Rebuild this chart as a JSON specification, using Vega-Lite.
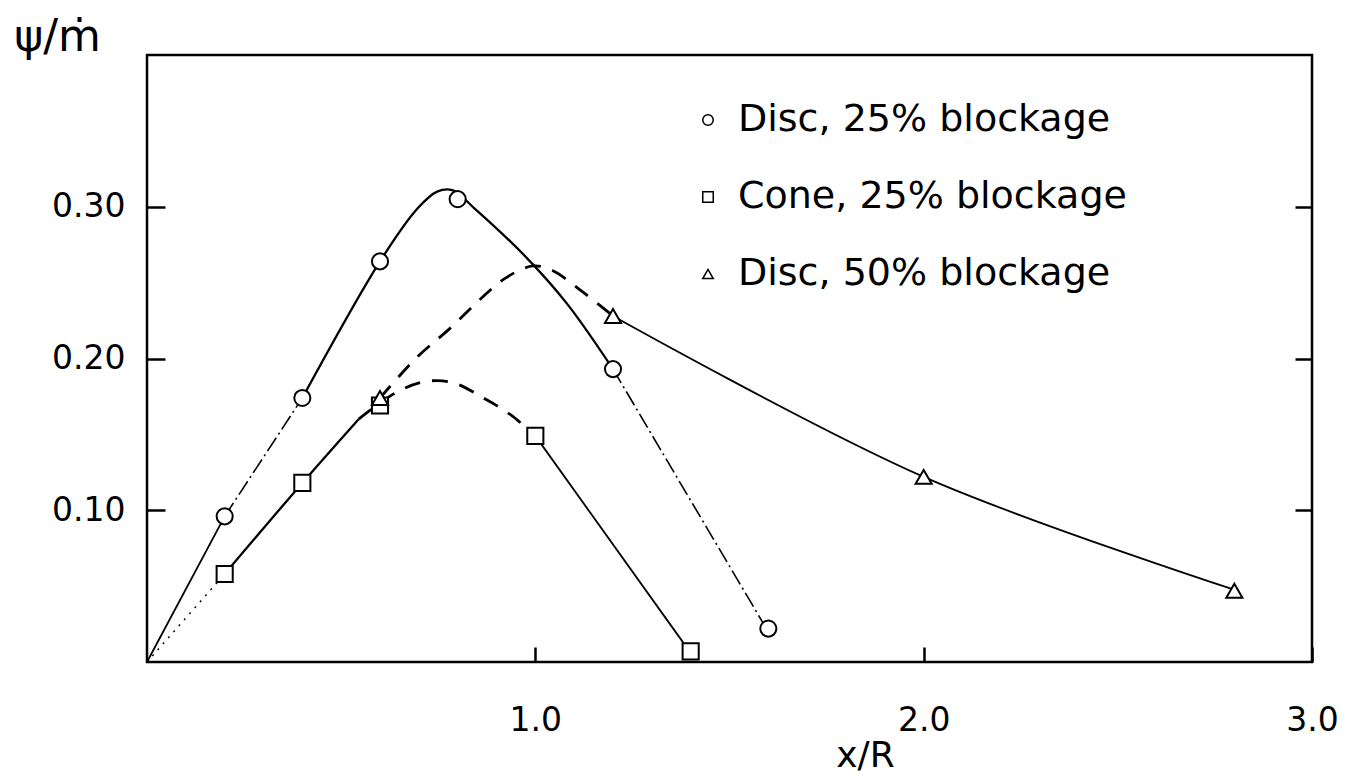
{
  "$schema": "https://vega.github.io/schema/vega-lite/v6.json",
  "width": 1165,
  "height": 607,
  "autosize": {"type": "none"},
  "padding": {"left": 147, "top": 55, "right": 47, "bottom": 116},
  "background": "white",
  "config": {
    "view": {"stroke": "black", "strokeWidth": 2.5},
    "font": "DejaVu Sans",
    "axis": {
      "grid": false,
      "domain": false,
      "tickColor": "black",
      "tickWidth": 2.5,
      "labelColor": "black",
      "titleColor": "black",
      "labelFont": "DejaVu Sans",
      "titleFont": "DejaVu Sans",
      "labelFontWeight": "normal",
      "titleFontWeight": "normal"
    }
  },
  "datasets": {
    "curves": [
      {"seg": "d25-start", "x": 0, "y": 0},
      {"seg": "d25-start", "x": 0.2, "y": 0.096},
      {"seg": "d25-rise", "x": 0.2, "y": 0.096},
      {"seg": "d25-rise", "x": 0.4, "y": 0.174},
      {"seg": "d25-top", "x": 0.4, "y": 0.174},
      {"seg": "d25-top", "x": 0.6, "y": 0.264},
      {"seg": "d25-top", "x": 0.697, "y": 0.299},
      {"seg": "d25-top", "x": 0.747, "y": 0.31},
      {"seg": "d25-top", "x": 0.786, "y": 0.311},
      {"seg": "d25-top", "x": 0.843, "y": 0.299},
      {"seg": "d25-top", "x": 0.979, "y": 0.266},
      {"seg": "d25-top", "x": 1.082, "y": 0.236},
      {"seg": "d25-top", "x": 1.2, "y": 0.193},
      {"seg": "d25-fall", "x": 1.2, "y": 0.193},
      {"seg": "d25-fall", "x": 1.595, "y": 0.022},
      {"seg": "c25-start", "x": 0, "y": 0},
      {"seg": "c25-start", "x": 0.2, "y": 0.058},
      {"seg": "c25-rise", "x": 0.2, "y": 0.058},
      {"seg": "c25-rise", "x": 0.4, "y": 0.118},
      {"seg": "c25-rise", "x": 0.545, "y": 0.16},
      {"seg": "c25-peak", "x": 0.545, "y": 0.16},
      {"seg": "c25-peak", "x": 0.644, "y": 0.178},
      {"seg": "c25-peak", "x": 0.722, "y": 0.185},
      {"seg": "c25-peak", "x": 0.789, "y": 0.184},
      {"seg": "c25-peak", "x": 0.866, "y": 0.174},
      {"seg": "c25-peak", "x": 0.936, "y": 0.163},
      {"seg": "c25-peak", "x": 1.0, "y": 0.149},
      {"seg": "c25-tail", "x": 1.0, "y": 0.149},
      {"seg": "c25-tail", "x": 1.397, "y": 0.007},
      {"seg": "d50-peak", "x": 0.6, "y": 0.174},
      {"seg": "d50-peak", "x": 0.696, "y": 0.201},
      {"seg": "d50-peak", "x": 0.781, "y": 0.22},
      {"seg": "d50-peak", "x": 0.858, "y": 0.239},
      {"seg": "d50-peak", "x": 0.923, "y": 0.253},
      {"seg": "d50-peak", "x": 0.994, "y": 0.261},
      {"seg": "d50-peak", "x": 1.044, "y": 0.258},
      {"seg": "d50-peak", "x": 1.116, "y": 0.245},
      {"seg": "d50-peak", "x": 1.2, "y": 0.228},
      {"seg": "d50-tail", "x": 1.2, "y": 0.228},
      {"seg": "d50-tail", "x": 2.0, "y": 0.122},
      {"seg": "d50-tail", "x": 2.807, "y": 0.047}
    ],
    "points": [
      {"series": "Disc, 25% blockage", "x": 0.2, "y": 0.096},
      {"series": "Disc, 25% blockage", "x": 0.4, "y": 0.174},
      {"series": "Disc, 25% blockage", "x": 0.6, "y": 0.264},
      {"series": "Disc, 25% blockage", "x": 0.8, "y": 0.305},
      {"series": "Disc, 25% blockage", "x": 1.2, "y": 0.193},
      {"series": "Disc, 25% blockage", "x": 1.6, "y": 0.022},
      {"series": "Cone, 25% blockage", "x": 0.2, "y": 0.058},
      {"series": "Cone, 25% blockage", "x": 0.4, "y": 0.118},
      {"series": "Cone, 25% blockage", "x": 0.6, "y": 0.169},
      {"series": "Cone, 25% blockage", "x": 1.0, "y": 0.149},
      {"series": "Cone, 25% blockage", "x": 1.4, "y": 0.007},
      {"series": "Disc, 50% blockage", "x": 0.6, "y": 0.174},
      {"series": "Disc, 50% blockage", "x": 1.2, "y": 0.228},
      {"series": "Disc, 50% blockage", "x": 2.0, "y": 0.122},
      {"series": "Disc, 50% blockage", "x": 2.8, "y": 0.047}
    ]
  },
  "encoding": {
    "x": {
      "field": "x",
      "type": "quantitative",
      "scale": {"domain": [0, 3], "nice": false, "zero": false},
      "axis": {
        "values": [1, 2, 3],
        "format": ".1f",
        "tickSize": -15,
        "labelPadding": 57,
        "labelFontSize": 33,
        "labelFlush": false,
        "labelOverlap": false,
        "title": "x/R",
        "titleFontSize": 36,
        "titleX": 718,
        "titleY": 93,
        "titleAlign": "center",
        "titleBaseline": "middle"
      }
    }
  },
  "layer": [
    {
      "description": "thick solid stretches of the curves, with the left axis",
      "data": {"name": "curves"},
      "transform": [{"filter": {"field": "seg", "oneOf": ["d25-top", "c25-rise"]}}],
      "mark": {"type": "line", "color": "black", "strokeWidth": 2.3, "interpolate": "catmull-rom"},
      "encoding": {
        "y": {
          "field": "y",
          "type": "quantitative",
          "scale": {"domain": [0, 0.4], "nice": false, "zero": false},
          "axis": {
            "orient": "left",
            "values": [0.1, 0.2, 0.3],
            "format": ".2f",
            "tickSize": -18,
            "labelPadding": 40,
            "labelFontSize": 33,
            "title": "ψ/ṁ",
            "titleAngle": 0,
            "titleFontSize": 44,
            "titleX": -90,
            "titleY": -18,
            "titleAlign": "center",
            "titleBaseline": "middle"
          }
        },
        "detail": {"field": "seg", "type": "nominal"}
      }
    },
    {
      "description": "thin solid stretches, with the inward ticks on the right",
      "data": {"name": "curves"},
      "transform": [{"filter": {"field": "seg", "oneOf": ["d25-start", "c25-tail", "d50-tail"]}}],
      "mark": {"type": "line", "color": "black", "strokeWidth": 1.8, "interpolate": "catmull-rom"},
      "encoding": {
        "y": {
          "field": "y",
          "type": "quantitative",
          "scale": {"domain": [0, 0.4], "nice": false, "zero": false},
          "axis": {
            "orient": "right",
            "values": [0.1, 0.2, 0.3],
            "tickSize": -17,
            "labels": false,
            "title": null
          }
        },
        "detail": {"field": "seg", "type": "nominal"}
      }
    },
    {
      "description": "dash-dot stretches of the 25% disc curve",
      "data": {"name": "curves"},
      "transform": [{"filter": {"field": "seg", "oneOf": ["d25-rise", "d25-fall"]}}],
      "mark": {"type": "line", "color": "black", "strokeWidth": 1.6, "strokeDash": [16, 4, 2, 4]},
      "encoding": {
        "y": {"field": "y", "type": "quantitative", "scale": {"domain": [0, 0.4], "nice": false, "zero": false}, "axis": null},
        "detail": {"field": "seg", "type": "nominal"}
      }
    },
    {
      "description": "dotted start of the cone curve",
      "data": {"name": "curves"},
      "transform": [{"filter": {"field": "seg", "equal": "c25-start"}}],
      "mark": {"type": "line", "color": "black", "strokeWidth": 1.4, "strokeDash": [2, 6]},
      "encoding": {
        "y": {"field": "y", "type": "quantitative", "scale": {"domain": [0, 0.4], "nice": false, "zero": false}, "axis": null},
        "detail": {"field": "seg", "type": "nominal"}
      }
    },
    {
      "description": "dashed peaks of the cone and 50% disc curves",
      "data": {"name": "curves"},
      "transform": [{"filter": {"field": "seg", "oneOf": ["c25-peak", "d50-peak"]}}],
      "mark": {"type": "line", "color": "black", "strokeWidth": 2.8, "strokeDash": [16, 12], "interpolate": "catmull-rom"},
      "encoding": {
        "y": {"field": "y", "type": "quantitative", "scale": {"domain": [0, 0.4], "nice": false, "zero": false}, "axis": null},
        "detail": {"field": "seg", "type": "nominal"}
      }
    },
    {
      "description": "measured points, hollow symbols",
      "data": {"name": "points"},
      "mark": {"type": "point", "filled": true, "fill": "white", "stroke": "black", "strokeWidth": 2, "size": 260, "opacity": 1},
      "encoding": {
        "y": {"field": "y", "type": "quantitative", "scale": {"domain": [0, 0.4], "nice": false, "zero": false}, "axis": null},
        "shape": {
          "field": "series",
          "type": "nominal",
          "scale": {
            "domain": ["Disc, 25% blockage", "Cone, 25% blockage", "Disc, 50% blockage"],
            "range": ["circle", "square", "triangle-up"]
          },
          "legend": {
            "orient": "none",
            "legendX": 542,
            "legendY": 46,
            "title": null,
            "labelFont": "DejaVu Sans",
            "labelFontSize": 38,
            "labelColor": "black",
            "labelLimit": 0,
            "labelOffset": 11,
            "symbolSize": 110,
            "rowPadding": 39,
            "encode": {
              "symbols": {
                "update": {
                  "fill": {"value": "white"},
                  "stroke": {"value": "black"},
                  "strokeWidth": {"value": 1.8},
                  "opacity": {"value": 1}
                }
              }
            }
          }
        }
      }
    }
  ],
  "resolve": {"axis": {"y": "independent"}}
}
